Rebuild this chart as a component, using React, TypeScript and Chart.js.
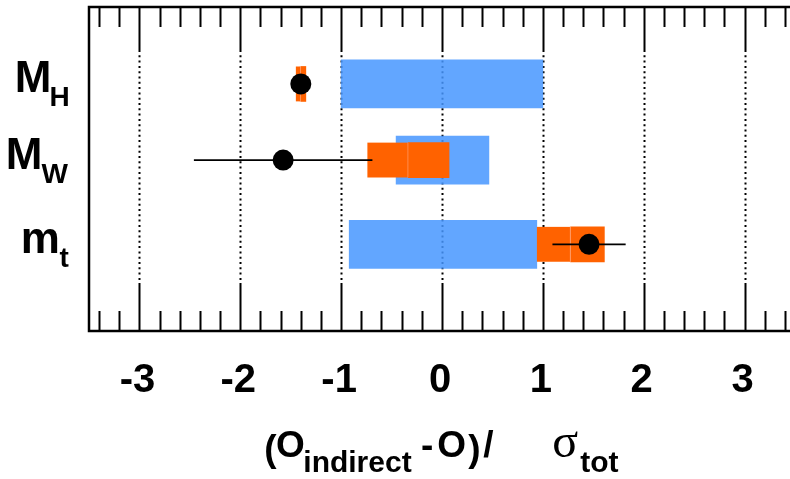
import React, { useEffect, useRef } from "react";
import { Chart, registerables } from "chart.js";

Chart.register(...registerables);

// ---- data ----
const labelMain = ["M", "M", "m"];
const labelSub = ["H", "W", "t"];
const rowY = [3.05, 2.11, 1.07];
const blueLow = [-1.0, -0.455, -0.92];
const blueHigh = [1.0, 0.465, 0.94];
const orangeCenter = [-1.4, -0.335, 1.275];
const orangeHalf = [0.05, 0.405, 0.335];
const pointValue = [-1.4, -1.575, 1.458];
const pointError = [0.0, 0.885, 0.363];
const xTicks = [-3, -2, -1, 0, 1, 2, 3];
const xMin = -3.5;
const xMax = 3.5;

const SANS = "'Liberation Sans', Arial, Helvetica, sans-serif";
const SERIF = "'Liberation Serif', 'Times New Roman', serif";
const BLUE = "rgba(71,150,255,0.85)";
const ORANGE = "#ff6200";

function drawInk(ctx: CanvasRenderingContext2D, text: string, font: string, inkLeft: number, baseline: number) {
  ctx.font = font;
  ctx.textAlign = "left";
  ctx.textBaseline = "alphabetic";
  const m = ctx.measureText(text);
  ctx.fillText(text, inkLeft + m.actualBoundingBoxLeft, baseline);
}

const framePlugin = {
  id: "rootFrame",
  beforeDatasetsDraw(chart: any) {
    const { ctx, chartArea, scales } = chart;
    const { top, bottom } = chartArea;
    const x = scales.x;
    ctx.save();
    ctx.strokeStyle = "#000";
    ctx.lineWidth = 2;
    ctx.lineCap = "butt";
    ctx.setLineDash([2, 3.3]);
    for (const t of xTicks) {
      const px = Math.round(x.getPixelForValue(t)) + 0.5;
      ctx.beginPath();
      ctx.moveTo(px, top + 43);
      ctx.lineTo(px, bottom - 48);
      ctx.stroke();
    }
    ctx.restore();
  },
  afterDatasetsDraw(chart: any) {
    const { ctx, chartArea, scales } = chart;
    const { top, bottom, left, right } = chartArea;
    const x = scales.x;
    const y = scales.y;
    ctx.save();
    ctx.strokeStyle = "#000";
    ctx.setLineDash([]);
    // ticks
    ctx.lineWidth = 2;
    const minorStep = 0.2;
    for (let i = Math.ceil(xMin / minorStep); i <= Math.floor(xMax / minorStep); i++) {
      const v = i * minorStep;
      const px = Math.round(x.getPixelForValue(v)) + 0.5;
      const isMajor = Math.abs(v - Math.round(v)) < 1e-6;
      const lenTop = isMajor ? 43 : 20;
      const lenBot = isMajor ? 48 : 20;
      ctx.beginPath();
      ctx.moveTo(px, top);
      ctx.lineTo(px, top + lenTop);
      ctx.moveTo(px, bottom);
      ctx.lineTo(px, bottom - lenBot);
      ctx.stroke();
    }
    // frame
    ctx.lineWidth = 2.5;
    ctx.beginPath();
    ctx.moveTo(right + 5, top);
    ctx.lineTo(left, top);
    ctx.lineTo(left, bottom);
    ctx.lineTo(right + 5, bottom);
    ctx.stroke();

    // tick labels
    ctx.fillStyle = "#000";
    ctx.font = `bold 40px ${SANS}`;
    ctx.textAlign = "center";
    ctx.textBaseline = "alphabetic";
    for (const t of xTicks) {
      ctx.fillText(String(t), x.getPixelForValue(t) - 2, 392);
    }

    // y labels
    ctx.textAlign = "left";
    for (let i = 0; i < labelMain.length; i++) {
      const py = y.getPixelForValue(rowY[i]);
      const subFont = `bold 28px ${SANS}`;
      const mainFont = `bold 44px ${SANS}`;
      ctx.font = subFont;
      const ms = ctx.measureText(labelSub[i]);
      const subInkRight = 68.5;
      const subX = subInkRight - ms.actualBoundingBoxRight;
      const subInkLeft = subX - ms.actualBoundingBoxLeft;
      ctx.fillText(labelSub[i], subX, py + 22.5);
      ctx.font = mainFont;
      const mm = ctx.measureText(labelMain[i]);
      const mainX = subInkLeft - 1.7 - mm.actualBoundingBoxRight;
      ctx.fillText(labelMain[i], mainX, py + 8.5);
    }

    // axis title
    const c = x.getPixelForValue((xMin + xMax) / 2);
    const mainF = `bold 37px ${SANS}`;
    const subF = `bold 30px ${SANS}`;
    const base = 457;
    const subBase = 472;
    drawInk(ctx, "(", mainF, c - 176.7, base + 4);
    drawInk(ctx, "O", mainF, c - 165, base);
    drawInk(ctx, "indirect", subF, c - 136.7, subBase);
    drawInk(ctx, "-", mainF, c - 20, base);
    drawInk(ctx, "O", mainF, c - 3.7, base);
    drawInk(ctx, ")", mainF, c + 26.3, base + 4);
    drawInk(ctx, "/", mainF, c + 41.3, base);
    drawInk(ctx, "σ", `48px ${SERIF}`, c + 111.3, base);
    drawInk(ctx, "tot", subF, c + 138.3, subBase);
    ctx.restore();
  },
};

export default function App() {
  const ref = useRef<HTMLCanvasElement | null>(null);
  useEffect(() => {
    if (!ref.current) return;
    const datasets: any[] = [];
    datasets.push({
      type: "scatter",
      data: pointValue.map((v, i) => ({ x: v, y: rowY[i] })),
      backgroundColor: "#000",
      borderColor: "#000",
      borderWidth: 0,
      pointRadius: 10.5,
      pointHoverRadius: 10.5,
      order: 0,
    });
    pointValue.forEach((v, i) => {
      datasets.push({
        type: "line",
        data: [
          { x: v - pointError[i], y: rowY[i] },
          { x: v + pointError[i], y: rowY[i] },
        ],
        borderColor: "#000",
        borderWidth: 1.6,
        pointRadius: 0,
        fill: false,
        order: 1,
      });
    });
    datasets.push({
      type: "bar",
      data: orangeCenter.map((cv, i) => ({ x: [cv - orangeHalf[i], cv], y: rowY[i] })),
      backgroundColor: ORANGE,
      borderColor: "#ff9a66",
      borderWidth: { top: 0, bottom: 0, left: 0, right: 1 },
      borderSkipped: false,
      barThickness: 35,
      grouped: false,
      order: 2,
    });
    datasets.push({
      type: "bar",
      data: orangeCenter.map((cv, i) => ({ x: [cv, cv + orangeHalf[i]], y: rowY[i] })),
      backgroundColor: ORANGE,
      borderWidth: 0,
      barThickness: 35,
      grouped: false,
      order: 2,
    });
    datasets.push({
      type: "bar",
      data: blueLow.map((lo, i) => ({ x: [lo, blueHigh[i]], y: rowY[i] })),
      backgroundColor: BLUE,
      borderWidth: 0,
      barThickness: 48,
      grouped: false,
      order: 3,
    });

    const chart = new Chart(ref.current, {
      type: "bar",
      data: { datasets },
      options: {
        indexAxis: "y",
        animation: false,
        responsive: false,
        devicePixelRatio: 1,
        events: [],
        layout: { autoPadding: false, padding: { left: 89, top: 7, right: 5, bottom: 148 } },
        scales: {
          x: { type: "linear", min: xMin, max: xMax, offset: false, display: false },
          y: { type: "linear", min: 0, max: 4, offset: false, display: false },
        },
        plugins: { legend: { display: false }, tooltip: { enabled: false } },
      } as any,
      plugins: [framePlugin],
    });
    return () => chart.destroy();
  }, []);

  return (
    <div
      style={{
        position: "fixed",
        left: 0,
        top: 0,
        width: 790,
        height: 479,
        overflow: "hidden",
        background: "#fff",
      }}
    >
      <canvas ref={ref} width={800} height={479} style={{ display: "block", width: 800, height: 479 }} />
    </div>
  );
}
